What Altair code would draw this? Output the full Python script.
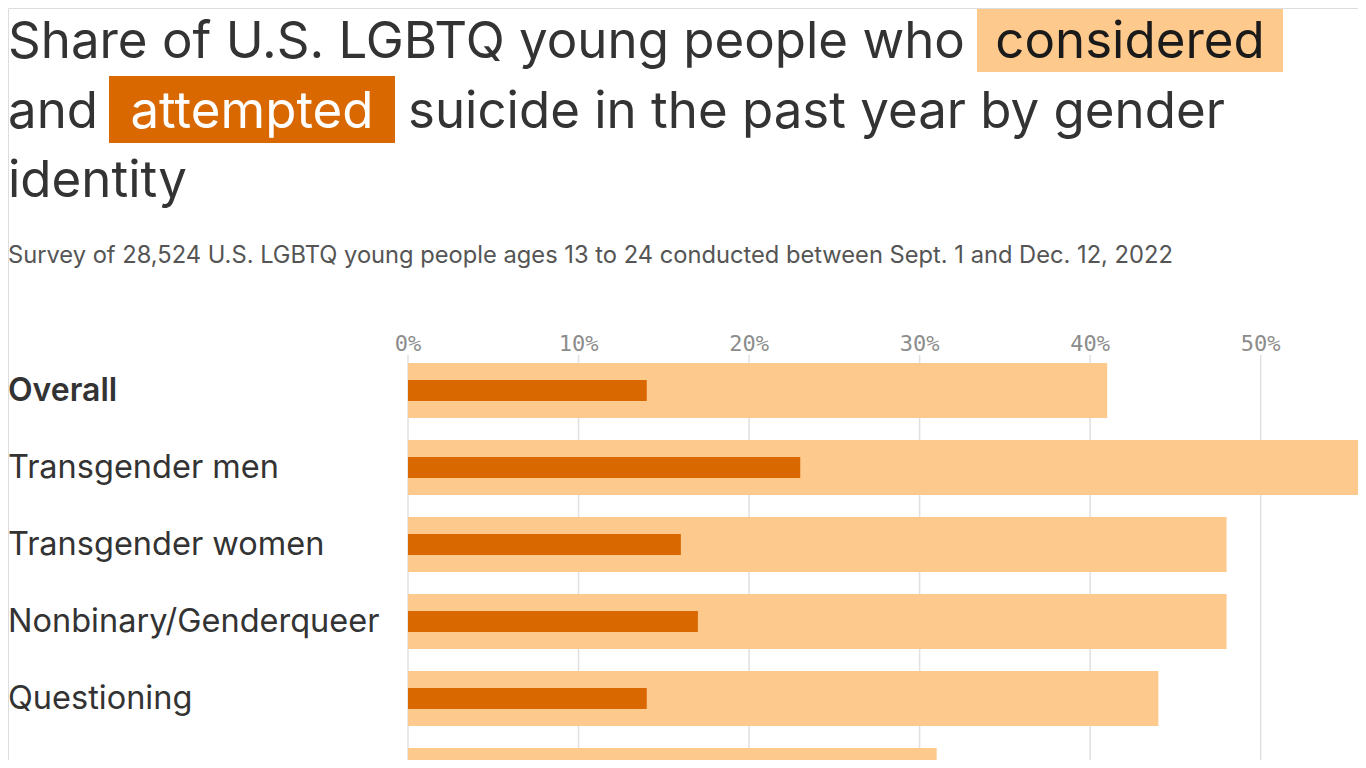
import altair as alt
import pandas as pd

# ---- data ----
categories = ["Overall", "Transgender men", "Transgender women",
              "Nonbinary/Genderqueer", "Questioning", "Cisgender women"]
considered = [41, 56, 48, 48, 44, 31]
attempted = [14, 23, 16, 17, 14, 8]
tick_values = [0, 10, 20, 30, 40, 50]

title_line1 = "Share of U.S. LGBTQ young people who"
title_word1 = "considered"
title_line2a = "and"
title_word2 = "attempted"
title_line2b = "suicide in the past year by gender"
title_line3 = "identity"
subtitle = ("Survey of 28,524 U.S. LGBTQ young people ages 13 to 24 conducted "
            "between Sept. 1 and Dec. 12, 2022")

df = pd.DataFrame({"category": categories, "considered": considered,
                   "attempted": attempted})
ticks = pd.DataFrame({"tick": tick_values})
one = pd.DataFrame({"a": [0]})

LIGHT = "#fec98c"
DARK = "#d96800"
INK = "#333333"
FONT = "Inter"

W, H = 1350, 752
xscale = alt.Scale(domain=[0, 56], range=[400, 1355], nice=False, zero=True)
yscale = alt.Scale(domain=categories, range=[344, 344 + 6 * 77],
                   paddingInner=0, paddingOuter=0)

X = lambda f: alt.X(f, scale=xscale, axis=None)
Y = alt.Y("category:N", sort=categories, scale=yscale, axis=None)

grid = alt.Chart(ticks).mark_rule(color="#e0e0e0", strokeWidth=1.5).encode(
    x=X("tick:Q"), y=alt.value(347), y2=alt.value(H))

tick_labels = alt.Chart(ticks).transform_calculate(
    lab="datum.tick + '%'").mark_text(
    font="DejaVu Sans Mono", fontSize=22, color="#8c8c8c", baseline="middle",
    align="center").encode(
    x=X("tick:Q"), y=alt.value(336), text="lab:N")

bars_c = alt.Chart(df).mark_bar(color=LIGHT, size=55).encode(
    x=X("considered:Q"), y=Y)
bars_a = alt.Chart(df).mark_bar(color=DARK, size=21).encode(
    x=X("attempted:Q"), y=Y)

labels_bold = alt.Chart(df).transform_filter(
    alt.datum.category == "Overall").mark_text(
    font=FONT, fontSize=32, fontWeight=600, color=INK, align="left",
    baseline="alphabetic", dy=10).encode(
    x=alt.value(0), y=Y, text="category:N")
labels = alt.Chart(df).transform_filter(
    alt.datum.category != "Overall").mark_text(
    font=FONT, fontSize=32.5, color=INK, align="left",
    baseline="alphabetic", dy=10).encode(
    x=alt.value(0), y=Y, text="category:N")


def txt(s, x, y, size=51, color=INK, align="left", weight=400):
    return alt.Chart(one).mark_text(
        font=FONT, fontSize=size, color=color, align=align,
        baseline="alphabetic", fontWeight=weight).encode(
        x=alt.value(x), y=alt.value(y), text=alt.value(s))


def box(x, x2, y, y2, color):
    return alt.Chart(one).mark_rect(color=color).encode(
        x=alt.value(x), x2=alt.value(x2), y=alt.value(y), y2=alt.value(y2))


title_layers = [
    box(969, 1275, 1, 64, LIGHT),
    box(101, 387, 68, 135, DARK),
    txt(title_line1, 0, 50),
    txt(title_word1, 1122, 50, align="center", color="#1a1a1a"),
    txt(title_line2a, 0, 120),
    txt(title_word2, 244, 120, align="center", color="white"),
    txt(title_line2b, 400, 120),
    txt(title_line3, 0, 189),
    txt(subtitle, 0, 255, size=23.7, color="#555555"),
]

chart = alt.layer(
    grid, bars_c, bars_a, tick_labels, labels_bold, labels, *title_layers
).properties(
    width=W, height=H, autosize=alt.AutoSizeParams(type="none"), padding=0
).configure_view(strokeWidth=0, stroke="transparent").configure(
    background="white")

chart.save("out.html", embed_options={"renderer": "svg", "actions": False})
